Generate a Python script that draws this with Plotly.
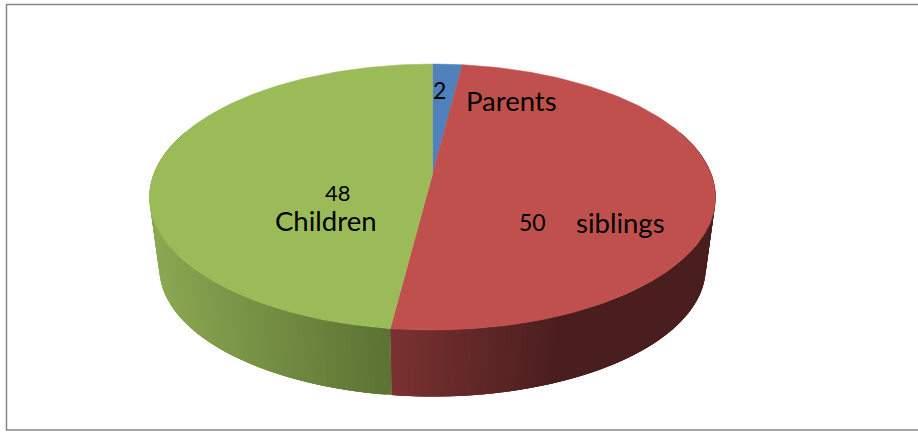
import math
import plotly.graph_objects as go

labels = ["Parents", "siblings", "Children"]
values = [2, 50, 48]
colors = ["#4f81bd", "#c0504d", "#9bbb59"]

# Perspective view of the pie, in the pixel space of the axes
CX, APEX_Y, A, B, K = 432.5, 174.0, 129.0, 278.8, 0.173
DEPTH_APEX_Y, DEPTH_SCALE = 246.0, 0.965
STEP = 1.0


def project(theta_deg, lower=False):
    t = math.radians(theta_deg)
    u, v = math.sin(t), math.cos(t)
    d = 1 + K * v
    s = DEPTH_SCALE if lower else 1.0
    ay = DEPTH_APEX_Y if lower else APEX_Y
    return CX + s * B * u / d, ay - s * A * v / d


def lerp_hex(c1, c2, f):
    f = max(0.0, min(1.0, f))
    a = [int(c1[i:i + 2], 16) for i in (1, 3, 5)]
    b = [int(c2[i:i + 2], 16) for i in (1, 3, 5)]
    return "rgb(%d,%d,%d)" % tuple(round(p + (q - p) * f) for p, q in zip(a, b))


def side_colour(idx, x):
    if idx == 1:
        return lerp_hex("#7a3231", "#4a1e1e", (x - 390) / 170)
    if idx == 2:
        return lerp_hex("#8ba852", "#5c7233", (x - 150) / 240)
    return lerp_hex("#4f81bd", "#2c4a70", 0.5)


def frange(a, b, step):
    n = max(1, int(math.ceil((b - a) / step)))
    return [a + (b - a) * i / n for i in range(n + 1)]


total = sum(values)
starts, acc = [], 0.0
for v in values:
    starts.append(acc / total * 360)
    acc += v
ends = starts[1:] + [360.0]

fig = go.Figure()

# Side wall: strips painted in order, each overlapping the next one to hide seams
for i in range(len(values)):
    lo, hi = max(starts[i], 70), min(ends[i], 290)
    if hi <= lo:
        continue
    grid = frange(lo, hi, STEP)
    for t0, t1 in zip(grid[:-1], grid[1:]):
        mid_x = (project(t0)[0] + project(t1)[0]) / 2
        col = side_colour(i, mid_x)
        arc = frange(t0, min(t1 + 2 * STEP, hi), STEP / 2)
        upper = [project(t) for t in arc]
        lower = [project(t, True) for t in reversed(arc)]
        p = upper + lower + [upper[0]]
        fig.add_trace(go.Scatter(
            x=[q[0] for q in p], y=[q[1] for q in p],
            mode="lines", fill="toself", fillcolor=col,
            line=dict(width=0), hoverinfo="skip", showlegend=False))

# Top face
for i, lab in enumerate(labels):
    pts = [project(t) for t in frange(starts[i], ends[i], STEP)]
    xs = [CX] + [q[0] for q in pts] + [CX]
    ys = [APEX_Y] + [q[1] for q in pts] + [APEX_Y]
    fig.add_trace(go.Scatter(
        x=xs, y=ys, mode="lines", fill="toself", fillcolor=colors[i],
        line=dict(color=colors[i], width=0.5), name=lab,
        hoverinfo="name", showlegend=False))

text_items = [
    (str(values[0]), 439, 90, 23),
    (labels[0], 511, 100.5, 27.5),
    (str(values[2]), 338, 192, 22),
    (labels[2], 326, 220, 27.5),
    (str(values[1]), 532, 222, 23),
    (labels[1], 620, 222.5, 27.5),
]
annotations = [dict(x=x, y=y, xref="x", yref="y", text=t, showarrow=False,
                    font=dict(family="Lato, Carlito, sans-serif", size=s, color="#000000"))
               for t, x, y, s in text_items]

fig.update_layout(
    width=918, height=432, margin=dict(l=0, r=0, t=0, b=0),
    paper_bgcolor="#ffffff", plot_bgcolor="#ffffff",
    xaxis=dict(range=[0, 918], visible=False, fixedrange=True),
    yaxis=dict(range=[432, 0], visible=False, fixedrange=True),
    annotations=annotations,
    shapes=[dict(type="path", path="M 918 4.5 L 6.5 4.5 L 6.5 430 L 918 430",
                 xref="x", yref="y", line=dict(color="#868686", width=1.5))],
)

fig.write_html("out.html", config={"displayModeBar": False},
               post_script="document.body.style.margin='0';")
